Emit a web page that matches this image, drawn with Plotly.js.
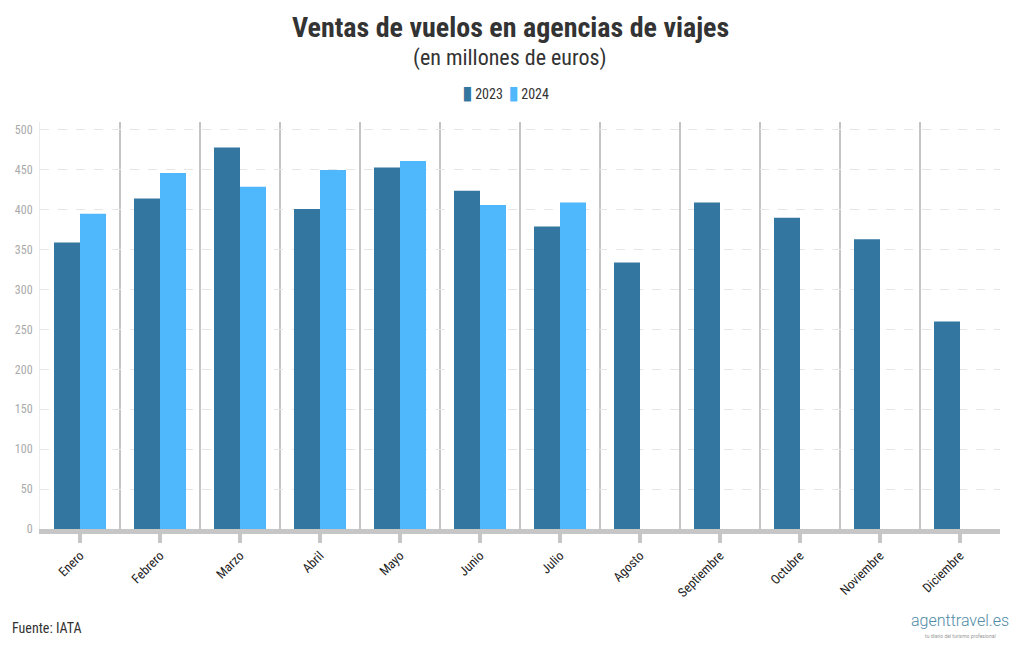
<!DOCTYPE html>
<html><head><meta charset="utf-8">
<script src="https://cdn.plot.ly/plotly-3.0.1.min.js"></script>
<style>body{margin:0;background:#fff}#c{width:1020px;height:650px}</style>
</head><body><div id="c"></div>
<script>
const months = ["Enero","Febrero","Marzo","Abril","Mayo","Junio","Julio","Agosto","Septiembre","Octubre","Noviembre","Diciembre"];
const ventas2023 = [359, 414, 478, 401, 453, 424, 379, 334, 409, 390, 363, 260];
const ventas2024 = [395, 446, 429, 450, 461, 406, 409, null, null, null, null, null];
const yTicks = [0, 50, 100, 150, 200, 250, 300, 350, 400, 450, 500];
const seriesNames = ["2023", "2024"];
const seriesColors = ["#33769f", "#4fb8fd"];

const FONT = "Roboto Condensed, Liberation Sans Narrow, Roboto, sans-serif";
const seps = [];
for (let i = 0; i < months.length - 1; i++) {
  seps.push({type:'line', xref:'x', yref:'paper', x0:i+0.5, x1:i+0.5, y0:0, y1:1,
    line:{color:'#c4c4c4', width:2}, layer:'below'});
}
const data = [
  {type:'bar', name:seriesNames[0], x:months, y:ventas2023, marker:{color:seriesColors[0]}},
  {type:'bar', name:seriesNames[1], x:months, y:ventas2024, marker:{color:seriesColors[1]}}
];
const legendText = seriesNames.map((n, i) =>
  '<span style="font-family:DejaVu Sans;font-size:19px;color:' + seriesColors[i] + '">▮</span>&#8201;' + n).join('&#8201;&#8201;');
const CX = 0.4896;
const layout = {
  width:1020, height:650,
  margin:{l:40, r:20, t:122, b:121},
  paper_bgcolor:'#fff', plot_bgcolor:'#fff',
  font:{family:FONT, color:'#333'},
  barmode:'group', bargap:0.35, bargroupgap:0,
  showlegend:false,
  xaxis:{type:'category', showgrid:false, showline:true, linecolor:'#c6c6c6', linewidth:5,
    ticks:'outside', ticklen:9, tickwidth:4, tickcolor:'#c6c6c6', tickangle:-45,
    tickfont:{family:FONT, size:13, color:'#222'}, zeroline:false},
  yaxis:{range:[0,510], tickvals:yTicks, showgrid:true, gridcolor:'#e6e6e6', griddash:'dash', gridwidth:1,
    showline:true, linecolor:'#ececec', linewidth:1, zeroline:false,
    tickfont:{family:FONT, size:12, color:'#aaa'}, ticks:'', ticklabelstandoff:4},
  shapes:seps,
  annotations:[
    {text:'<b>Ventas de vuelos en agencias de viajes</b>', xref:'paper', yref:'paper', x:CX, y:1.231, xanchor:'center', yanchor:'middle', showarrow:false,
      font:{family:FONT, size:28, color:'#333'}},
    {text:'(en millones de euros)', xref:'paper', yref:'paper', x:CX, y:1.157, xanchor:'center', yanchor:'middle', showarrow:false,
      font:{family:FONT, size:22, color:'#333'}},
    {text:legendText, xref:'paper', yref:'paper', x:CX - 0.005, y:1.074, xanchor:'center', yanchor:'middle', showarrow:false,
      font:{family:FONT, size:14, color:'#333'}},
    {text:'Fuente: IATA', xref:'paper', yref:'paper', x:-0.031, y:-0.243, xanchor:'left', yanchor:'middle', showarrow:false,
      font:{family:FONT, size:14, color:'#333'}},
    {text:'agenttravel.es', xref:'paper', yref:'paper', x:1.011, y:-0.224, xanchor:'right', yanchor:'middle', showarrow:false,
      font:{family:'Roboto, sans-serif', size:16, color:'#4f8aa6', weight:300}},
    {text:'tu diario del turismo profesional', xref:'paper', yref:'paper', x:0.998, y:-0.262, xanchor:'right', yanchor:'middle', showarrow:false,
      font:{family:'Roboto, sans-serif', size:5, color:'#999'}}
  ]
};
Plotly.newPlot('c', data, layout, {displayModeBar:false});
</script></body></html>
